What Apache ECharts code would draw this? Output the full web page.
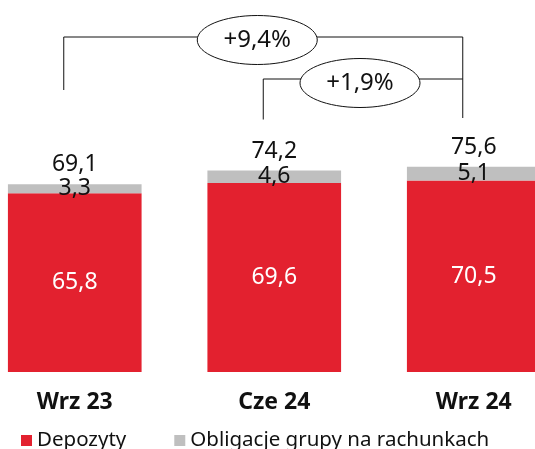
<!DOCTYPE html>
<html>
<head>
<meta charset="utf-8">
<script src="https://cdn.jsdelivr.net/npm/echarts@6/dist/echarts.min.js"></script>
<style>
  html, body { margin: 0; padding: 0; background: #fff; }
  #main { width: 535px; height: 449px; }
</style>
</head>
<body>
<div id="main"></div>
<script>
// dane
const categories = ['Wrz 23', 'Cze 24', 'Wrz 24']
const depozyty = [65.8, 69.6, 70.5]
const obligacje = [3.3, 4.6, 5.1]
const totals = [69.1, 74.2, 75.6]
const growthLabels = ['+9,4%', '+1,9%']

const FONT = '"Noto Sans", "Open Sans", sans-serif'
const fmt = v => String(v).replace('.', ',')

const option = {
  animation: false,
  textStyle: { fontFamily: FONT },
  grid: {
    left: -25,
    width: 598.5,
    top: 100.4,
    bottom: 77,
    outerBoundsMode: 'none'
  },
  legend: {
    left: 21,
    top: 430,
    padding: 0,
    itemWidth: 11,
    itemHeight: 11,
    itemGap: 48,
    icon: 'rect',
    data: ['Depozyty', 'Obligacje grupy na rachunkach'],
    textStyle: { fontSize: 20.5, color: '#111', fontFamily: FONT }
  },
  xAxis: {
    type: 'category',
    data: categories,
    axisLine: { show: false },
    axisTick: { show: false },
    axisLabel: {
      margin: 19,
      fontSize: 23,
      fontWeight: 'bold',
      color: '#111',
      fontFamily: FONT
    }
  },
  yAxis: {
    type: 'value',
    min: 0,
    max: 100,
    show: false,
    splitLine: { show: false }
  },
  series: [
    {
      name: 'Depozyty',
      type: 'bar',
      stack: 'a',
      barCategoryGap: '33%',
      data: depozyty,
      itemStyle: { color: '#e3212f' },
      label: {
        show: true,
        position: 'inside',
        color: '#fff',
        fontSize: 23,
        fontFamily: FONT,
        formatter: p => fmt(p.value)
      }
    },
    {
      name: 'Obligacje grupy na rachunkach',
      type: 'bar',
      stack: 'a',
      data: obligacje,
      itemStyle: { color: '#bfbfbf' },
      label: {
        show: true,
        position: 'inside',
        color: '#111',
        fontSize: 23,
        fontFamily: FONT,
        formatter: p => fmt(p.value)
      }
    },
    {
      name: 'Suma',
      type: 'bar',
      stack: 'a',
      data: totals.map(() => 0),
      itemStyle: { color: 'transparent' },
      label: {
        show: true,
        position: 'top',
        distance: 8,
        color: '#111',
        fontSize: 23,
        fontFamily: FONT,
        formatter: p => fmt(totals[p.dataIndex])
      }
    }
  ]
}

const chart = echarts.init(document.getElementById('main'))
chart.setOption(option)

// klamry ze wzrostem
const xs = categories.map(c => chart.convertToPixel({ xAxisIndex: 0 }, c) - 11)
const ellipse = (cx, cy, text) => ([
  {
    type: 'ellipse',
    shape: { cx: cx, cy: cy, rx: 60, ry: 24.5 },
    style: { fill: '#fff', stroke: '#111', lineWidth: 1 },
    z: 10
  },
  {
    type: 'text',
    x: cx, y: cy,
    style: {
      text: text, fill: '#111', fontSize: 24, fontFamily: FONT,
      align: 'center', verticalAlign: 'middle'
    },
    z: 11
  }
])
const line = pts => ({
  type: 'polyline',
  shape: { points: pts },
  style: { stroke: '#111', lineWidth: 1, fill: null },
  z: 5
})

chart.setOption({
  graphic: [
    line([[xs[0], 90], [xs[0], 37], [xs[2], 37], [xs[2], 118]]),
    line([[xs[1], 119.5], [xs[1], 79], [xs[2], 79]]),
    ...ellipse((xs[0] + xs[2]) / 2 - 6, 40, growthLabels[0]),
    ...ellipse((xs[1] + xs[2]) / 2 - 3, 83, growthLabels[1])
  ]
})
</script>
</body>
</html>
